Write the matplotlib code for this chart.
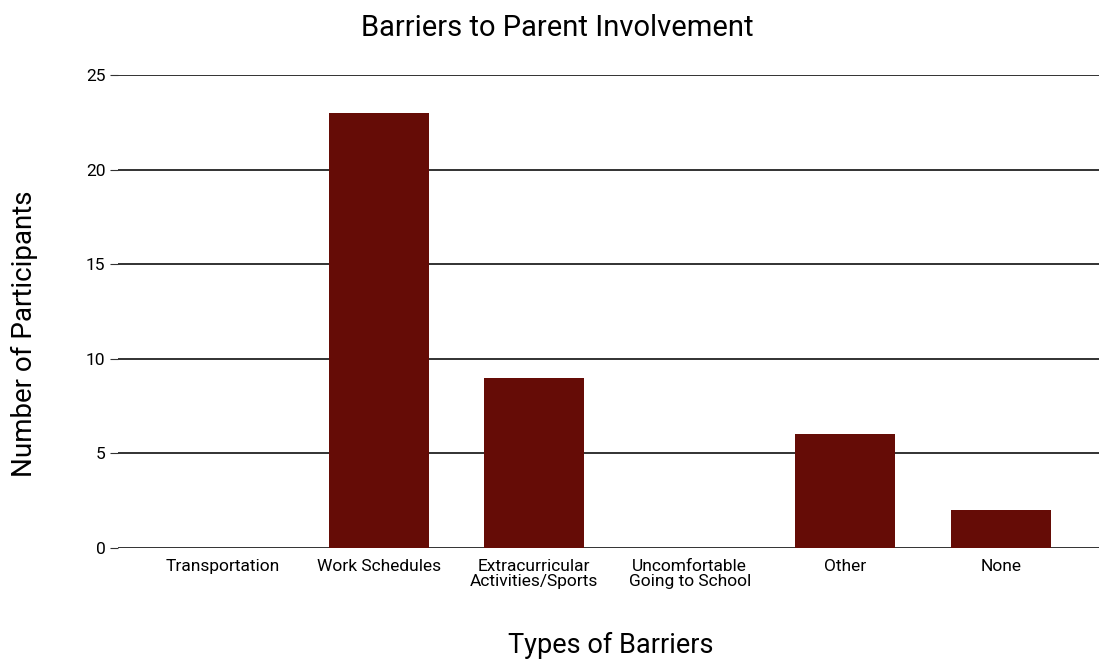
import matplotlib.pyplot as plt

plt.rcParams['font.family'] = ['Roboto', 'DejaVu Sans']

# data
categories = ['Transportation', 'Work Schedules', 'Extracurricular\nActivities/Sports',
              'Uncomfortable\nGoing to School', 'Other', 'None']
counts = [0, 23, 9, 0, 6, 2]
yticks = [0, 5, 10, 15, 20, 25]

fig = plt.figure(figsize=(10.99, 6.62), dpi=100)
ax = fig.add_axes([0.1074, 0.1722, 0.8926, 0.7145])

x = range(len(categories))
ax.bar(x, counts, width=0.643, color='#650c06', zorder=3)

ax.set_xlim(-0.675, 5.63)
ax.set_ylim(0, 25)
ax.set_yticks(yticks)
ax.set_xticks(list(x))
ax.set_xticklabels(categories, fontsize=12.5, linespacing=0.95)
ax.tick_params(axis='x', length=0, pad=8)
ax.tick_params(axis='y', length=6, color='#333333', labelsize=12.5, pad=3)

ax.yaxis.grid(True, color='#222222', linewidth=1.3, zorder=1)
for s in ['top', 'right', 'left', 'bottom']:
    ax.spines[s].set_visible(False)

fig.text(0.507, 0.958, 'Barriers to Parent Involvement', fontsize=21, ha='center', va='center')
fig.text(0.022, 0.496, 'Number of Participants', fontsize=20, rotation=90, ha='center', va='center')
fig.text(0.556, 0.025, 'Types of Barriers', fontsize=19.5, ha='center', va='center')

plt.savefig('out.png', dpi=100)
